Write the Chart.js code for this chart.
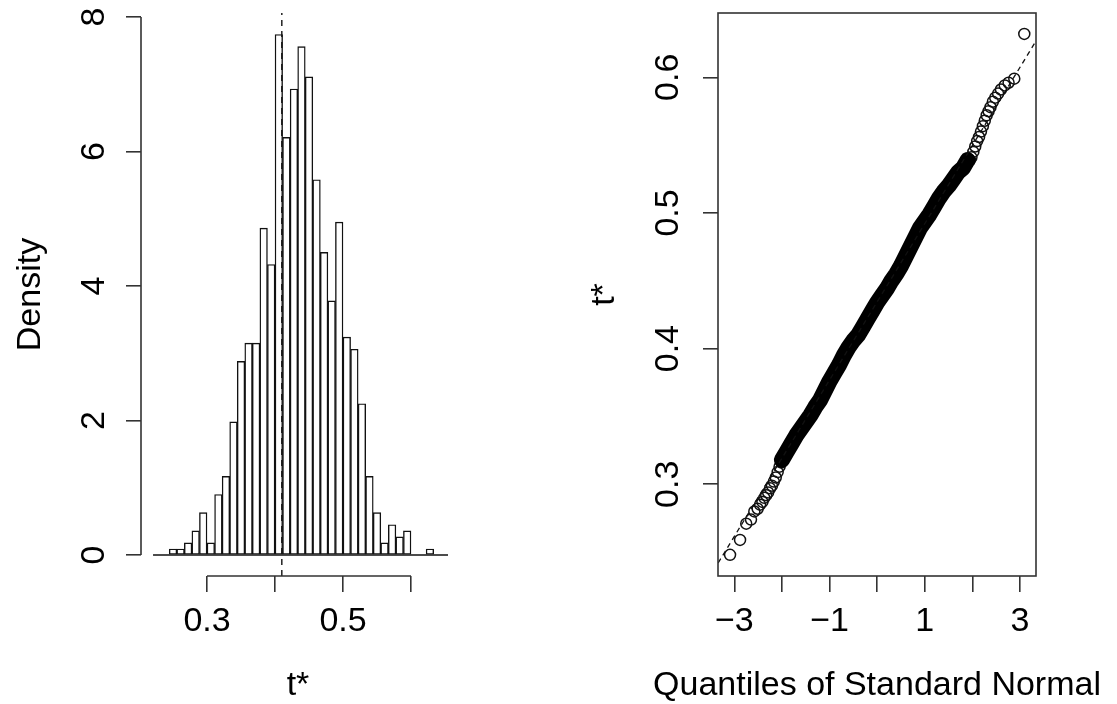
<!DOCTYPE html>
<html>
<head>
<meta charset="utf-8">
<title>Bootstrap t*</title>
<script src="https://cdn.jsdelivr.net/npm/chart.js@4.4.1/dist/chart.umd.min.js"></script>
<style>
  html, body { margin: 0; padding: 0; background: #fff; overflow: hidden; }
  #wrap { position: relative; width: 1117px; height: 704px; overflow: hidden; }
  #histChart { position: absolute; left: 0; top: 0; }
  #qqChart { position: absolute; left: 560px; top: 0; }
</style>
</head>
<body>
<div id="wrap">
  <canvas id="histChart" width="560" height="704"></canvas>
  <canvas id="qqChart" width="634" height="704"></canvas>
</div>
<script>
// Histogram of t* (bins 1/90 wide, probability scale)
const binMids = [0.25, 0.2611, 0.2722, 0.2833, 0.2944, 0.3056, 0.3167, 0.3278, 0.3389, 0.35,
                 0.3611, 0.3722, 0.3833, 0.3944, 0.4056, 0.4167, 0.4278, 0.4389, 0.45, 0.4611,
                 0.4722, 0.4833, 0.4944, 0.5056, 0.5167, 0.5278, 0.5389, 0.55, 0.5611, 0.5722,
                 0.5833, 0.5944, 0.6278];
const density = [0.09, 0.09, 0.18, 0.36, 0.63, 0.18, 0.90, 1.17, 1.98, 2.88,
                 3.15, 3.15, 4.86, 4.32, 7.74, 6.21, 6.93, 7.56, 7.11, 5.58,
                 4.50, 3.78, 4.95, 3.24, 3.06, 2.25, 1.17, 0.63, 0.18, 0.45,
                 0.27, 0.36, 0.09];
const t0 = 0.41;
const histBaseline = [0.2206, 0.6544];
const histXTicks = [0.3, 0.4, 0.5, 0.6];
const histXLabels = ['0.3', '', '0.5', ''];
const histYTicks = [0, 2, 4, 6, 8];
const histYLabels = ['0', '2', '4', '6', '8'];

// Normal QQ plot of t*
const qqBandX = [-2.0, -1.9, -1.8, -1.7, -1.6, -1.5, -1.4, -1.3, -1.2, -1.1,
                 -1.0, -0.9, -0.8, -0.7, -0.6, -0.5, -0.4, -0.3, -0.2, -0.1,
                 0.0, 0.1, 0.2, 0.3, 0.4, 0.5, 0.6, 0.7, 0.8, 0.9,
                 1.0, 1.1, 1.2, 1.3, 1.4, 1.5, 1.6, 1.7, 1.8, 1.9];
const qqBandY = [0.318, 0.324, 0.330, 0.336, 0.341, 0.346, 0.351, 0.357, 0.362, 0.369,
                 0.376, 0.382, 0.388, 0.395, 0.401, 0.406, 0.410, 0.416, 0.422, 0.428,
                 0.434, 0.439, 0.444, 0.450, 0.455, 0.461, 0.468, 0.475, 0.482, 0.489,
                 0.494, 0.499, 0.505, 0.511, 0.516, 0.520, 0.525, 0.530, 0.533, 0.539];
const qqLowX = [-3.09, -2.88, -2.75, -2.65, -2.58, -2.51, -2.46, -2.41, -2.37, -2.33,
                -2.29, -2.25, -2.21, -2.17, -2.13, -2.09, -2.05, -2.01];
const qqLowY = [0.248, 0.259, 0.271, 0.274, 0.280, 0.282, 0.285, 0.287, 0.290, 0.292,
                0.294, 0.297, 0.299, 0.302, 0.305, 0.309, 0.313, 0.316];
const qqHighX = [1.95, 1.98, 2.02, 2.06, 2.10, 2.14, 2.18, 2.22, 2.26, 2.30,
                 2.34, 2.38, 2.43, 2.48, 2.54, 2.60, 2.68, 2.76, 2.88, 3.09];
const qqHighY = [0.539, 0.541, 0.545, 0.549, 0.553, 0.556, 0.560, 0.564, 0.568, 0.572,
                 0.575, 0.578, 0.582, 0.585, 0.588, 0.591, 0.594, 0.596, 0.599, 0.632];
const qqLineX = [-3.34, 3.34];
const qqLineY = [0.242, 0.627];
const qqXTicks = [-3, -2, -1, 0, 1, 2, 3];
const qqXLabels = ['\u22123', '', '\u22121', '', '1', '', '3'];
const qqYTicks = [0.3, 0.4, 0.5, 0.6];
const qqYLabels = ['0.3', '0.4', '0.5', '0.6'];

const zip = (xs, ys) => xs.map((x, i) => ({ x: x, y: ys[i] }));
const AXIS = '#333';
const FS = 34;

Chart.defaults.font.family = "'Liberation Sans', Arial, Helvetica, sans-serif";
Chart.defaults.font.size = FS;
Chart.defaults.color = '#000';
Chart.defaults.animation = false;
Chart.defaults.plugins.legend.display = false;
Chart.defaults.plugins.tooltip.enabled = false;

// pin the axis boxes so the plot regions land where they should
function fixSize(w, h) {
    return function(scale) {
        if (w != null) scale.width = w;
        if (h != null) scale.height = h;
        scale.paddingLeft = scale.paddingRight = scale.paddingTop = scale.paddingBottom = 0;
    };
}

function setTicks(values) {
    return function(scale) {
        scale.ticks = values.map(v => ({ value: v }));
    };
}

// R style axis lines: only between the outer ticks, or a full box
const rAxes = {
    id: 'rAxes',
    afterDraw(chart, args, opts) {
        const { ctx, chartArea: a, scales: { x, y } } = chart;
        ctx.save();
        ctx.strokeStyle = AXIS;
        ctx.lineWidth = 1.6;
        if (opts.box) {
            ctx.strokeRect(a.left, a.top, a.right - a.left, a.bottom - a.top);
        } else {
            const xt = x.ticks, yt = y.ticks;
            ctx.beginPath();
            ctx.moveTo(x.getPixelForValue(xt[0].value), a.bottom);
            ctx.lineTo(x.getPixelForValue(xt[xt.length - 1].value), a.bottom);
            ctx.moveTo(a.left, y.getPixelForValue(yt[0].value));
            ctx.lineTo(a.left, y.getPixelForValue(yt[yt.length - 1].value));
            ctx.stroke();
        }
        ctx.restore();
    }
};

function axisGrid(len) {
    return { drawOnChartArea: false, drawTicks: true, tickLength: len, tickColor: AXIS, lineWidth: 1.6, offset: false };
}

// Histogram
const histYMin = -0.312, histYMax = 8.06;
new Chart(document.getElementById('histChart'), {
    type: 'bar',
    data: {
        datasets: [
            {
                type: 'line',
                data: [{ x: t0, y: histYMin }, { x: t0, y: histYMax }],
                borderColor: '#111',
                borderWidth: 1.4,
                borderDash: [6, 5],
                pointRadius: 0,
                order: 0
            },
            {
                type: 'line',
                data: [{ x: histBaseline[0], y: 0 }, { x: histBaseline[1], y: 0 }],
                borderColor: '#111',
                borderWidth: 1.6,
                pointRadius: 0,
                order: 0
            },
            {
                data: zip(binMids, density),
                backgroundColor: '#fff',
                borderColor: '#111',
                borderWidth: 1.4,
                borderSkipped: false,
                barPercentage: 1,
                categoryPercentage: 1,
                order: 1
            }
        ]
    },
    options: {
        responsive: false,
        layout: { padding: { top: 13, right: 105, left: 0, bottom: 0 } },
        scales: {
            x: {
                type: 'linear',
                min: 0.2029,
                max: 0.6647,
                offset: false,
                afterBuildTicks: setTicks(histXTicks),
                afterFit: fixSize(null, 128),
                border: { display: false },
                grid: axisGrid(16),
                ticks: {
                    autoSkip: false,
                    maxRotation: 0,
                    padding: 13,
                    font: { size: FS, lineHeight: 1 },
                    callback: (v, i) => histXLabels[i]
                },
                title: { display: true, text: 't*', font: { size: FS, lineHeight: 1 }, padding: { top: 0, bottom: 1 } }
            },
            y: {
                min: histYMin,
                max: histYMax,
                afterBuildTicks: setTicks(histYTicks),
                afterFit: fixSize(141, null),
                border: { display: false },
                grid: axisGrid(15),
                ticks: {
                    autoSkip: false,
                    minRotation: 90,
                    maxRotation: 90,
                    crossAlign: 'center',
                    padding: 22,
                    font: { size: FS, lineHeight: 1 },
                    callback: (v, i) => histYLabels[i]
                },
                title: { display: true, text: 'Density', font: { size: FS, lineHeight: 1 }, padding: { top: 14 } }
            }
        },
        plugins: { rAxes: { box: false } }
    },
    plugins: [rAxes]
});

// Normal QQ plot. An empty right-hand axis mirrors the left one so the
// plot box sits in the middle of the canvas and the full width title
// (used as the x label) is centred under it.
new Chart(document.getElementById('qqChart'), {
    type: 'scatter',
    data: {
        datasets: [
            {
                type: 'line',
                data: zip(qqLineX, qqLineY),
                borderColor: '#111',
                borderWidth: 1.3,
                borderDash: [5, 4],
                pointRadius: 0,
                order: 0
            },
            {
                type: 'line',
                data: zip(qqBandX, qqBandY),
                borderColor: '#000',
                borderWidth: 16,
                borderCapStyle: 'round',
                borderJoinStyle: 'round',
                pointRadius: 0,
                order: 1
            },
            {
                data: zip(qqLowX, qqLowY).concat(zip(qqHighX, qqHighY)),
                pointStyle: 'circle',
                pointRadius: 5.5,
                pointBorderWidth: 1.5,
                pointBorderColor: '#111',
                pointBackgroundColor: 'rgba(0,0,0,0)',
                order: 1
            }
        ]
    },
    options: {
        responsive: false,
        layout: { padding: { top: 13, right: 0, left: 0, bottom: 0 } },
        scales: {
            x: {
                type: 'linear',
                min: -3.343,
                max: 3.336,
                afterBuildTicks: setTicks(qqXTicks),
                afterFit: fixSize(null, 93),
                border: { display: false },
                grid: axisGrid(16),
                ticks: {
                    autoSkip: false,
                    maxRotation: 0,
                    padding: 13,
                    font: { size: FS, lineHeight: 1 },
                    callback: (v, i) => qqXLabels[i]
                },
                title: { display: false }
            },
            y: {
                type: 'linear',
                min: 0.2324,
                max: 0.6474,
                afterBuildTicks: setTicks(qqYTicks),
                afterFit: fixSize(158, null),
                border: { display: false },
                grid: axisGrid(15),
                ticks: {
                    autoSkip: false,
                    minRotation: 90,
                    maxRotation: 90,
                    crossAlign: 'center',
                    padding: 11,
                    font: { size: FS, lineHeight: 1 },
                    callback: (v, i) => qqYLabels[i]
                },
                title: { display: true, text: 't*', font: { size: FS, lineHeight: 1 }, padding: { top: 28 } }
            },
            spacer: {
                type: 'linear',
                position: 'right',
                afterFit: fixSize(158, null),
                border: { display: false },
                grid: { display: false },
                ticks: { display: false },
                title: { display: false }
            }
        },
        plugins: {
            rAxes: { box: true },
            title: {
                display: true,
                position: 'bottom',
                fullSize: true,
                text: 'Quantiles of Standard Normal',
                color: '#000',
                font: { size: FS, lineHeight: 1, weight: 'normal' },
                padding: { top: 0, bottom: 1 }
            }
        }
    },
    plugins: [rAxes]
});
</script>
</body>
</html>
